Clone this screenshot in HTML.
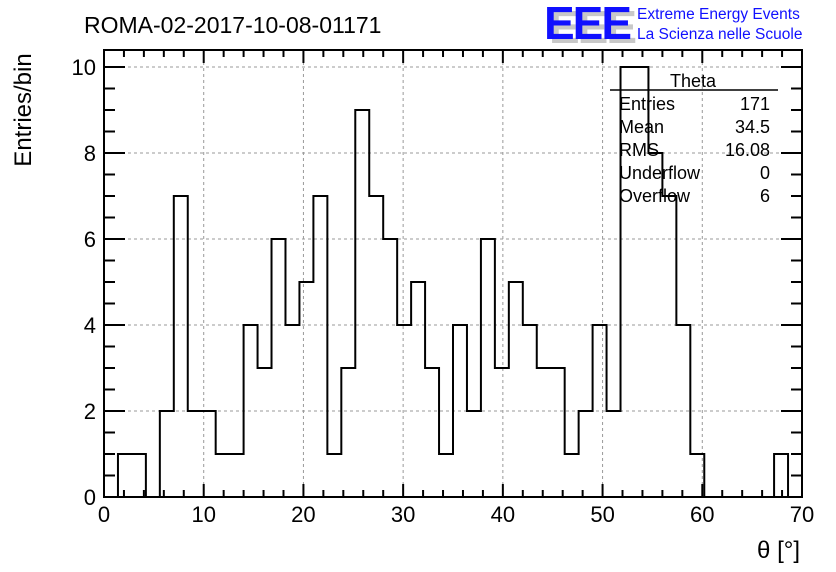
<!DOCTYPE html>
<html><head><meta charset="utf-8"><style>
body{margin:0;background:#fff;}
svg{display:block;font-family:"Liberation Sans",Arial,sans-serif;}
</style></head><body>
<svg id="chart" width="836" height="572" viewBox="0 0 836 572">
<rect width="836" height="572" fill="#fff"/>
<text x="84" y="33" font-size="23">ROMA-02-2017-10-08-01171</text>
<g>
<text x="549" y="43" font-size="46" font-weight="bold" fill="#c8c8c8" letter-spacing="-2">EEE</text>
<text x="544" y="39" font-size="46" font-weight="bold" fill="#1010ff" letter-spacing="-2">EEE</text>
<text x="637" y="19" font-size="15.5" fill="#1010ff">Extreme Energy Events</text>
<text x="637" y="39" font-size="15.5" fill="#1010ff">La Scienza nelle Scuole</text>
</g>
<g id="grid"></g>
<g id="axes"></g>
<path id="hist" fill="none" stroke="#000" stroke-width="2"/>
<g>
<text x="693" y="87" font-size="18" text-anchor="middle">Theta</text>
<line x1="610" y1="90" x2="778" y2="90" stroke="#000" stroke-width="1.5"/>
<g font-size="18">
<text x="619" y="110">Entries</text><text x="770" y="110" text-anchor="end">171</text>
<text x="619" y="133">Mean</text><text x="770" y="133" text-anchor="end">34.5</text>
<text x="619" y="156">RMS</text><text x="770" y="156" text-anchor="end">16.08</text>
<text x="619" y="179">Underflow</text><text x="770" y="179" text-anchor="end">0</text>
<text x="619" y="202">Overflow</text><text x="770" y="202" text-anchor="end">6</text>
</g></g>
<text x="800" y="558" font-size="24" text-anchor="end">θ [°]</text>
<text transform="translate(31,110) rotate(-90)" font-size="24" text-anchor="middle">Entries/bin</text>
</svg>
<script>
const counts=[0,1,1,0,2,7,2,2,1,1,4,3,6,4,5,7,1,3,9,7,6,4,5,3,1,4,2,6,3,5,4,3,3,1,2,4,2,10,10,8,7,4,1,0,0,0,0,0,1,0];
const xTicks=[0,10,20,30,40,50,60,70];
const yTicks=[0,2,4,6,8,10];
const binWidth=1.4;
const L=104,R=802,T=50,B=497;
const sx=v=>L+(v/70)*(R-L);
const sy=v=>B-(v/10)*(B-67);
const NS="http://www.w3.org/2000/svg";
function mk(tag,attrs,parent){const e=document.createElementNS(NS,tag);for(const k in attrs)e.setAttribute(k,attrs[k]);parent.appendChild(e);return e;}
const grid=document.getElementById('grid'),axes=document.getElementById('axes');
xTicks.forEach(v=>{if(v>0&&v<70){
const g=mk('line',{x1:sx(v),y1:T,x2:sx(v),y2:B,stroke:'#999','stroke-dasharray':'3,3'},grid);

}});
yTicks.forEach(v=>{if(v>0){
const g=mk('line',{x1:L,y1:sy(v),x2:R,y2:sy(v),stroke:'#999','stroke-dasharray':'3,3'},grid);

}});
const fr=mk('rect',{x:L,y:T,width:R-L,height:B-T,fill:'none',stroke:'#000','stroke-width':2},axes);


for(let v=0;v<=70;v+=2){const len=v%10===0?13:7;
mk('line',{x1:sx(v),y1:B,x2:sx(v),y2:B-len,stroke:'#000','stroke-width':2},axes);
mk('line',{x1:sx(v),y1:T,x2:sx(v),y2:T+len,stroke:'#000','stroke-width':2},axes);}
for(let v=0;v<=10.6;v+=0.5){const y=sy(v);if(y<T)continue;const len=(Math.abs(v%2)<1e-6)?21:11;
mk('line',{x1:L,y1:y,x2:L+len,y2:y,stroke:'#000','stroke-width':2},axes);
mk('line',{x1:R,y1:y,x2:R-len,y2:y,stroke:'#000','stroke-width':2},axes);}
xTicks.forEach(v=>{const t=mk('text',{x:sx(v),y:522,'font-size':22,'text-anchor':'middle'},axes);t.textContent=v;

});
yTicks.forEach(v=>{const t=mk('text',{x:96,y:sy(v)+8,'font-size':22,'text-anchor':'end'},axes);t.textContent=v;

});
let d='M'+sx(0)+','+sy(0);
counts.forEach((c,i)=>{d+=' L'+sx(i*binWidth)+','+sy(c)+' L'+sx((i+1)*binWidth)+','+sy(c);});
d+=' L'+sx(70)+','+sy(0);
document.getElementById('hist').setAttribute('d',d);
</script>
</body></html>
